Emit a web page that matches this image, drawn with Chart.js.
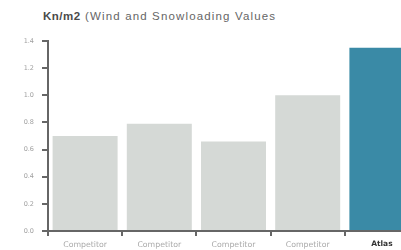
<!DOCTYPE html>
<html>
<head>
<meta charset="utf-8">
<script src="https://cdn.jsdelivr.net/npm/chart.js@4.4.1/dist/chart.umd.min.js"></script>
<style>
html,body{margin:0;padding:0;background:#fff;overflow:hidden;width:401px;height:250px;}
#wrap{position:relative;width:420px;height:250px;}
#title{position:absolute;left:43px;top:10px;font-family:"Liberation Sans",Arial,sans-serif;font-size:11.5px;letter-spacing:1.15px;color:#666;white-space:nowrap;}
#title b{color:#4a4a4a;letter-spacing:0.5px;}
canvas{position:absolute;left:0;top:0;}
</style>
</head>
<body>
<div id="wrap">
<div id="title"><b>Kn/m2</b> (Wind and Snowloading Values</div>
<canvas id="c" width="420" height="250"></canvas>
</div>
<script>
const categories = ["Competitor","Competitor","Competitor","Competitor","Atlas"];
const values = [0.70, 0.79, 0.66, 1.0, 1.35];
const barColors = ["#d5d9d6","#d5d9d6","#d5d9d6","#d5d9d6","#3a8aa6"];
const yTicks = [0,0.2,0.4,0.6,0.8,1.0,1.2,1.4];

const ctx = document.getElementById('c');
new Chart(ctx, {
  type: 'bar',
  data: {
    labels: categories,
    datasets: [{
      data: values,
      backgroundColor: barColors,
      borderWidth: 0,
      barPercentage: 0.876,
      categoryPercentage: 1.0
    }]
  },
  options: {
    responsive: false,
    animation: false,
    devicePixelRatio: 1,
    layout: { padding: { top: 41, right: 1, left: 0, bottom: 0 } },
    plugins: { legend: { display: false }, tooltip: { enabled: false } },
    scales: {
      y: {
        min: 0, max: 1.4,
        afterBuildTicks: (s) => { s.ticks = yTicks.map(v => ({ value: v })); },
        afterFit: (s) => { s.width = 48; },
        border: { display: true, color: '#666666', width: 2 },
        grid: { drawOnChartArea: false, tickLength: 6, color: '#666666', lineWidth: 2 },
        ticks: {
          padding: 8,
          color: '#a0a0a0',
          font: { family: 'DejaVu Sans', size: 6.5 },
          callback: (v) => Number(v).toFixed(1)
        }
      },
      x: {
        afterFit: (s) => { s.height = 19; },
        border: { display: true, color: '#666666', width: 2 },
        grid: { drawOnChartArea: false, tickLength: 5, color: '#666666', lineWidth: 2, offset: true },
        ticks: {
          padding: 4,
          maxRotation: 0,
          autoSkip: false,
          color: (c) => c.index === 4 ? '#333333' : '#aaaaaa',
          font: (c) => c.index === 4
            ? { family: 'DejaVu Sans', size: 7.5, weight: 'bold' }
            : { family: 'DejaVu Sans', size: 7.8 }
        }
      }
    }
  }
});
</script>
</body>
</html>
